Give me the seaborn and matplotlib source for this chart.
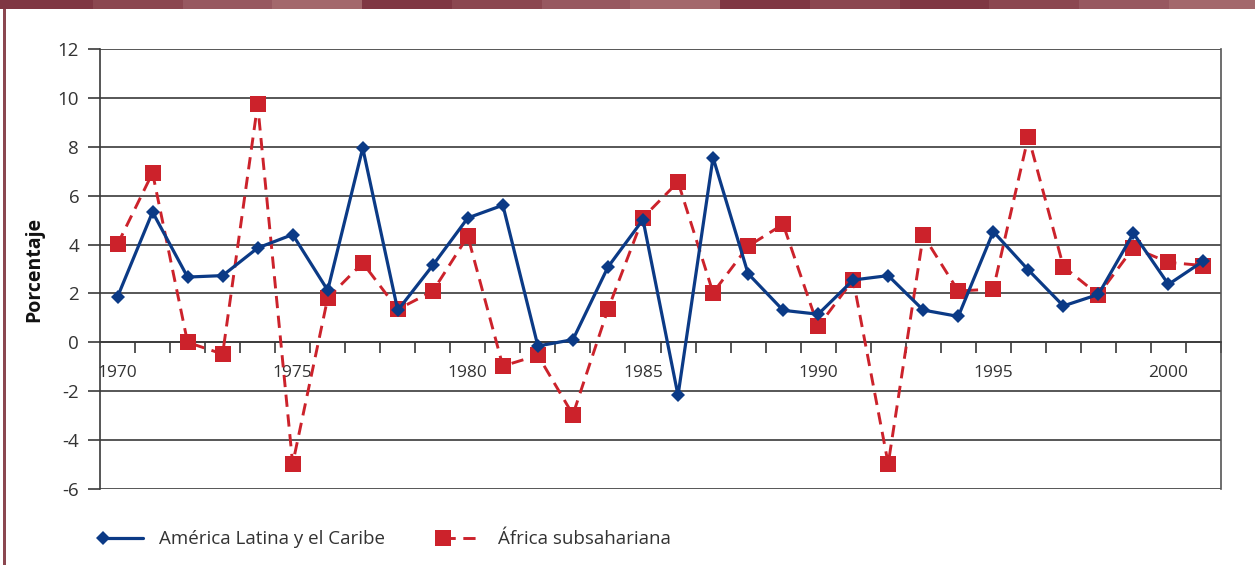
import numpy as np
import pandas as pd
import matplotlib
matplotlib.use('Agg')
import matplotlib.pyplot as plt
import seaborn as sns
from matplotlib.patches import Rectangle
from matplotlib.legend_handler import HandlerLine2D

years = list(range(1970, 2002))
america_latina = [1.86, 5.33, 2.67, 2.73, 3.86, 4.41, 2.13, 7.95, 1.31, 3.15,
                  5.09, 5.61, -0.15, 0.11, 3.08, 5.02, -2.17, 7.56, 2.81, 1.31,
                  1.15, 2.55, 2.73, 1.32, 1.06, 4.53, 2.96, 1.49, 1.96, 4.46,
                  2.37, 3.33]
africa_sub = [4.01, 6.93, 0.0, -0.48, 9.73, -4.97, 1.81, 3.25, 1.35, 2.09,
              4.34, -0.97, -0.53, -2.96, 1.35, 5.10, 6.56, 2.03, 3.93, 4.83,
              0.65, 2.56, -4.97, 4.38, 2.10, 2.18, 8.42, 3.10, 1.94, 3.87,
              3.27, 3.14]
label_years = [1970, 1975, 1980, 1985, 1990, 1995, 2000]
y_ticks = [-6, -4, -2, 0, 2, 4, 6, 8, 10, 12]

blue = '#0B3A86'
red = '#CC222B'
grid_col = '#3a3a3a'
txt_col = '#333333'

sns.set_style('white')
plt.rcParams['font.family'] = ['Open Sans', 'DejaVu Sans']

df_al = pd.DataFrame({'year': years, 'valor': america_latina})
df_af = pd.DataFrame({'year': years, 'valor': africa_sub})

fig = plt.figure(figsize=(12.55, 5.65), dpi=100)
ax = fig.add_axes([100 / 1255, 1 - 489 / 565, 1121 / 1255, 440 / 565])

for y in y_ticks:
    ax.axhline(y, color=grid_col, lw=1.2, zorder=1)

sns.lineplot(data=df_al, x='year', y='valor', ax=ax, color=blue, lw=2.3,
             marker='D', markersize=7.5, markeredgewidth=0,
             label='América Latina y el Caribe', zorder=4)
sns.lineplot(data=df_af, x='year', y='valor', ax=ax, color=red, lw=2.1,
             linestyle=(0, (4.2, 2.6)), marker='s', markersize=11,
             markeredgewidth=0, label='África subsahariana', zorder=3)

ax.set_xlim(1969.5, 2001.5)
ax.set_ylim(-6, 12)
ax.set_yticks(y_ticks)
ax.set_yticklabels([str(v) for v in y_ticks], fontsize=13.5, color=txt_col)
ax.tick_params(axis='y', length=9, width=1.2, color=grid_col, pad=6, left=True)

# x axis: line at zero, ticks between categories, labels every 5 years
ax.spines['bottom'].set_position(('data', 0))
ax.spines['bottom'].set_color(grid_col)
ax.spines['bottom'].set_linewidth(1.2)
ax.set_xticks(label_years)
ax.set_xticklabels([str(v) for v in label_years], fontsize=12.5, color=txt_col)
ax.set_xticks([y + 0.5 for y in years], minor=True)
ax.tick_params(axis='x', which='major', length=0, pad=16)
ax.tick_params(axis='x', which='minor', length=8, width=1.2, color=grid_col,
               direction='out', bottom=True)

ax.spines['left'].set_color(grid_col)
ax.spines['left'].set_linewidth(1.2)
ax.spines['right'].set_color('#555555')
ax.spines['right'].set_linewidth(1.2)
ax.spines['top'].set_visible(False)

ax.set_xlabel('')
ax.set_ylabel('Porcentaje', fontsize=14, fontweight='bold', color='#111111',
              labelpad=10)


class MarkerLeft(HandlerLine2D):
    def create_artists(self, *args, **kwargs):
        arts = super().create_artists(*args, **kwargs)
        arts[0].set_markevery([0])
        return arts


leg = ax.legend(loc='upper left', bbox_to_anchor=(-0.012, -0.055), ncol=2,
                frameon=False, fontsize=13.5, handlelength=2.1,
                handletextpad=0.85, columnspacing=3.1, numpoints=1,
                handler_map={plt.Line2D: MarkerLeft()})
for t in leg.get_texts():
    t.set_color(txt_col)

# decorative top band and left border
band_cols = ['#7F3743', '#8B4750', '#975860', '#A3686C',
             '#7F3743', '#8B4750', '#975860', '#A3686C',
             '#7F3743', '#8B4750', '#7F3743', '#8B4750', '#975860', '#A3686C']
edges = [0, 93, 183, 272, 362, 452, 542, 630, 720, 810, 900, 989, 1079, 1169, 1255]
for i, c in enumerate(band_cols):
    fig.patches.append(Rectangle((edges[i] / 1255, 1 - 9 / 565),
                                 (edges[i + 1] - edges[i]) / 1255, 9 / 565,
                                 transform=fig.transFigure, color=c, lw=0))
fig.patches.append(Rectangle((3 / 1255, 0), 2.5 / 1255, 1 - 9 / 565,
                             transform=fig.transFigure, color='#8B4750', lw=0))

fig.savefig('out.png', dpi=100)
